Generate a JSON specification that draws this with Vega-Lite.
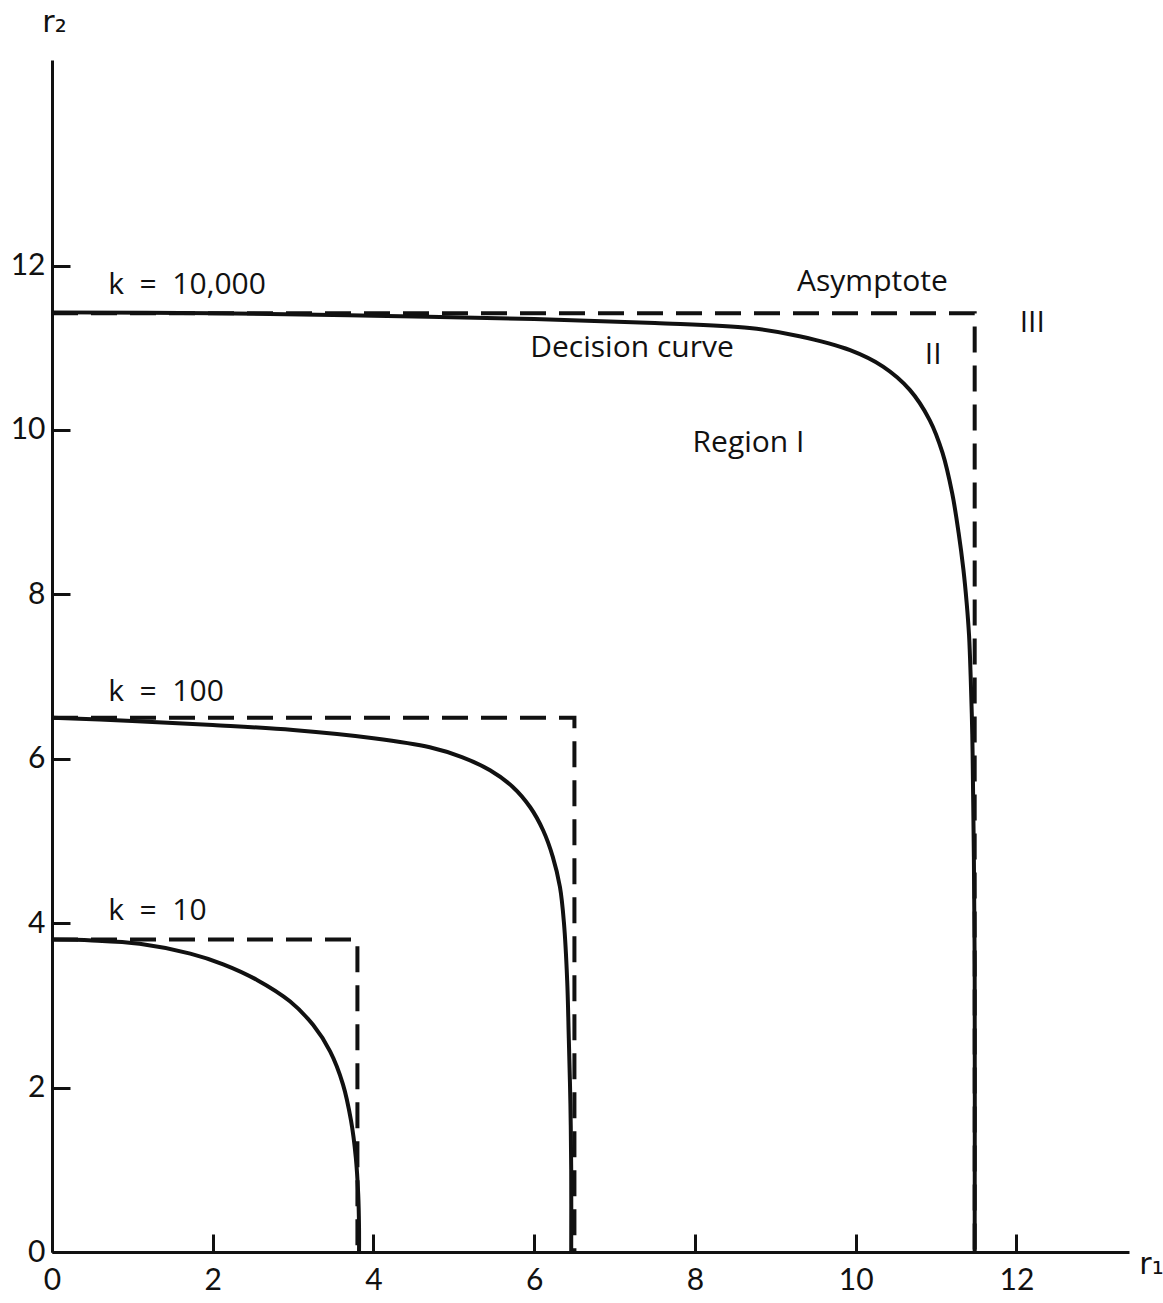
{
  "$schema": "https://vega.github.io/schema/vega-lite/v6.json",
  "width": 1077,
  "height": 1192,
  "autosize": {"type": "none"},
  "padding": {"left": 52, "top": 60, "right": 34, "bottom": 51},
  "background": "white",
  "config": {
    "view": {"stroke": null},
    "font": "Open Sans",
    "axis": {
      "grid": false,
      "domainColor": "#111",
      "domainWidth": 3,
      "tickColor": "#111",
      "tickWidth": 3,
      "tickSize": -18,
      "labelColor": "#111",
      "labelFont": "Lato",
      "labelFontSize": 30,
      "labelFlush": false,
      "labelOverlap": false,
      "labelBound": false,
      "format": "d",
      "titleColor": "#111",
      "titleFont": "DejaVu Sans",
      "titleFontWeight": "normal",
      "titleFontSize": 30
    }
  },
  "datasets": {
    "curves": [
      {"k": "10", "seq": 1, "r1": 0, "r2": 3.80},
      {"k": "10", "seq": 2, "r1": 0.5, "r2": 3.79},
      {"k": "10", "seq": 3, "r1": 1.09, "r2": 3.75},
      {"k": "10", "seq": 4, "r1": 1.72, "r2": 3.63},
      {"k": "10", "seq": 5, "r1": 2.13, "r2": 3.5},
      {"k": "10", "seq": 6, "r1": 2.55, "r2": 3.31},
      {"k": "10", "seq": 7, "r1": 2.96, "r2": 3.05},
      {"k": "10", "seq": 8, "r1": 3.25, "r2": 2.76},
      {"k": "10", "seq": 9, "r1": 3.46, "r2": 2.44},
      {"k": "10", "seq": 10, "r1": 3.62, "r2": 2.04},
      {"k": "10", "seq": 11, "r1": 3.72, "r2": 1.6},
      {"k": "10", "seq": 12, "r1": 3.78, "r2": 1.15},
      {"k": "10", "seq": 13, "r1": 3.81, "r2": 0.7},
      {"k": "10", "seq": 14, "r1": 3.82, "r2": 0.3},
      {"k": "10", "seq": 15, "r1": 3.82, "r2": 0},
      {"k": "100", "seq": 1, "r1": 0, "r2": 6.50},
      {"k": "100", "seq": 2, "r1": 1, "r2": 6.46},
      {"k": "100", "seq": 3, "r1": 2, "r2": 6.41},
      {"k": "100", "seq": 4, "r1": 3, "r2": 6.35},
      {"k": "100", "seq": 5, "r1": 4, "r2": 6.25},
      {"k": "100", "seq": 6, "r1": 4.7, "r2": 6.14},
      {"k": "100", "seq": 7, "r1": 5.1, "r2": 6.02},
      {"k": "100", "seq": 8, "r1": 5.45, "r2": 5.86},
      {"k": "100", "seq": 9, "r1": 5.73, "r2": 5.66},
      {"k": "100", "seq": 10, "r1": 5.95, "r2": 5.41},
      {"k": "100", "seq": 11, "r1": 6.11, "r2": 5.13},
      {"k": "100", "seq": 12, "r1": 6.23, "r2": 4.81},
      {"k": "100", "seq": 13, "r1": 6.32, "r2": 4.44},
      {"k": "100", "seq": 14, "r1": 6.37, "r2": 4.0},
      {"k": "100", "seq": 15, "r1": 6.41, "r2": 3.3},
      {"k": "100", "seq": 16, "r1": 6.43, "r2": 2.6},
      {"k": "100", "seq": 17, "r1": 6.45, "r2": 1.8},
      {"k": "100", "seq": 18, "r1": 6.46, "r2": 1.0},
      {"k": "100", "seq": 19, "r1": 6.46, "r2": 0},
      {"k": "10000", "seq": 1, "r1": 0, "r2": 11.43},
      {"k": "10000", "seq": 2, "r1": 2, "r2": 11.42},
      {"k": "10000", "seq": 3, "r1": 4, "r2": 11.39},
      {"k": "10000", "seq": 4, "r1": 6, "r2": 11.35},
      {"k": "10000", "seq": 5, "r1": 7.5, "r2": 11.3},
      {"k": "10000", "seq": 6, "r1": 8.68, "r2": 11.24},
      {"k": "10000", "seq": 7, "r1": 9.3, "r2": 11.14},
      {"k": "10000", "seq": 8, "r1": 9.93, "r2": 10.97},
      {"k": "10000", "seq": 9, "r1": 10.34, "r2": 10.77},
      {"k": "10000", "seq": 10, "r1": 10.67, "r2": 10.49},
      {"k": "10000", "seq": 11, "r1": 10.92, "r2": 10.12},
      {"k": "10000", "seq": 12, "r1": 11.08, "r2": 9.72},
      {"k": "10000", "seq": 13, "r1": 11.2, "r2": 9.23},
      {"k": "10000", "seq": 14, "r1": 11.28, "r2": 8.75},
      {"k": "10000", "seq": 15, "r1": 11.34, "r2": 8.3},
      {"k": "10000", "seq": 16, "r1": 11.38, "r2": 7.9},
      {"k": "10000", "seq": 17, "r1": 11.41, "r2": 7.5},
      {"k": "10000", "seq": 18, "r1": 11.43, "r2": 7.0},
      {"k": "10000", "seq": 19, "r1": 11.45, "r2": 6.3},
      {"k": "10000", "seq": 20, "r1": 11.46, "r2": 5.6},
      {"k": "10000", "seq": 21, "r1": 11.47, "r2": 4.8},
      {"k": "10000", "seq": 22, "r1": 11.48, "r2": 3.5},
      {"k": "10000", "seq": 23, "r1": 11.48, "r2": 0}
    ],
    "asym": [
      {"k": "10", "seq": 1, "r1": 0, "r2": 3.8},
      {"k": "10", "seq": 2, "r1": 3.8, "r2": 3.8},
      {"k": "10", "seq": 3, "r1": 3.8, "r2": 0},
      {"k": "100", "seq": 1, "r1": 0, "r2": 6.5},
      {"k": "100", "seq": 2, "r1": 6.5, "r2": 6.5},
      {"k": "100", "seq": 3, "r1": 6.5, "r2": 0},
      {"k": "10000", "seq": 1, "r1": 0, "r2": 11.42},
      {"k": "10000", "seq": 2, "r1": 11.48, "r2": 11.42},
      {"k": "10000", "seq": 3, "r1": 11.48, "r2": 0}
    ],
    "labels": [
      {"label": "k\u00a0\u00a0=\u00a0\u00a010,000", "r1": 0.7, "r2": 11.76},
      {"label": "Asymptote", "r1": 9.27, "r2": 11.8},
      {"label": "III", "r1": 12.04, "r2": 11.3},
      {"label": "Decision curve", "r1": 5.95, "r2": 11.0},
      {"label": "II", "r1": 10.86, "r2": 10.91},
      {"label": "Region I", "r1": 7.97, "r2": 9.84},
      {"label": "k\u00a0\u00a0=\u00a0\u00a0100", "r1": 0.7, "r2": 6.81},
      {"label": "k\u00a0\u00a0=\u00a0\u00a010", "r1": 0.7, "r2": 4.15}
    ]
  },
  "layer": [
    {
      "data": {"name": "asym"},
      "mark": {"type": "line", "strokeDash": [26, 13], "strokeWidth": 4, "color": "#111", "strokeCap": "butt"},
      "encoding": {
        "x": {
          "field": "r1", "type": "quantitative",
          "scale": {"domain": [0, 13.4], "nice": false, "zero": false},
          "axis": {
            "values": [0, 2, 4, 6, 8, 10, 12],
            "labelPadding": 31,
            "title": "r₁",
            "titleX": 1099, "titleY": 12,
            "titleAngle": 0, "titleAlign": "center", "titleBaseline": "middle"
          }
        },
        "y": {
          "field": "r2", "type": "quantitative",
          "scale": {"domain": [0, 14.5], "nice": false, "zero": false},
          "axis": {
            "values": [0, 2, 4, 6, 8, 10, 12],
            "labelPadding": 25,
            "title": "r₂",
            "titleX": 2, "titleY": -38,
            "titleAngle": 0, "titleAlign": "center", "titleBaseline": "middle"
          }
        },
        "detail": {"field": "k"},
        "order": {"field": "seq"}
      }
    },
    {
      "data": {"name": "curves"},
      "mark": {"type": "line", "strokeWidth": 4, "color": "#111", "interpolate": "catmull-rom"},
      "encoding": {
        "x": {"field": "r1", "type": "quantitative"},
        "y": {"field": "r2", "type": "quantitative"},
        "detail": {"field": "k"},
        "order": {"field": "seq"}
      }
    },
    {
      "data": {"name": "labels"},
      "mark": {"type": "text", "align": "left", "baseline": "middle", "fontSize": 30, "color": "#111", "font": "Open Sans"},
      "encoding": {
        "x": {"field": "r1", "type": "quantitative"},
        "y": {"field": "r2", "type": "quantitative"},
        "text": {"field": "label"}
      }
    }
  ]
}
